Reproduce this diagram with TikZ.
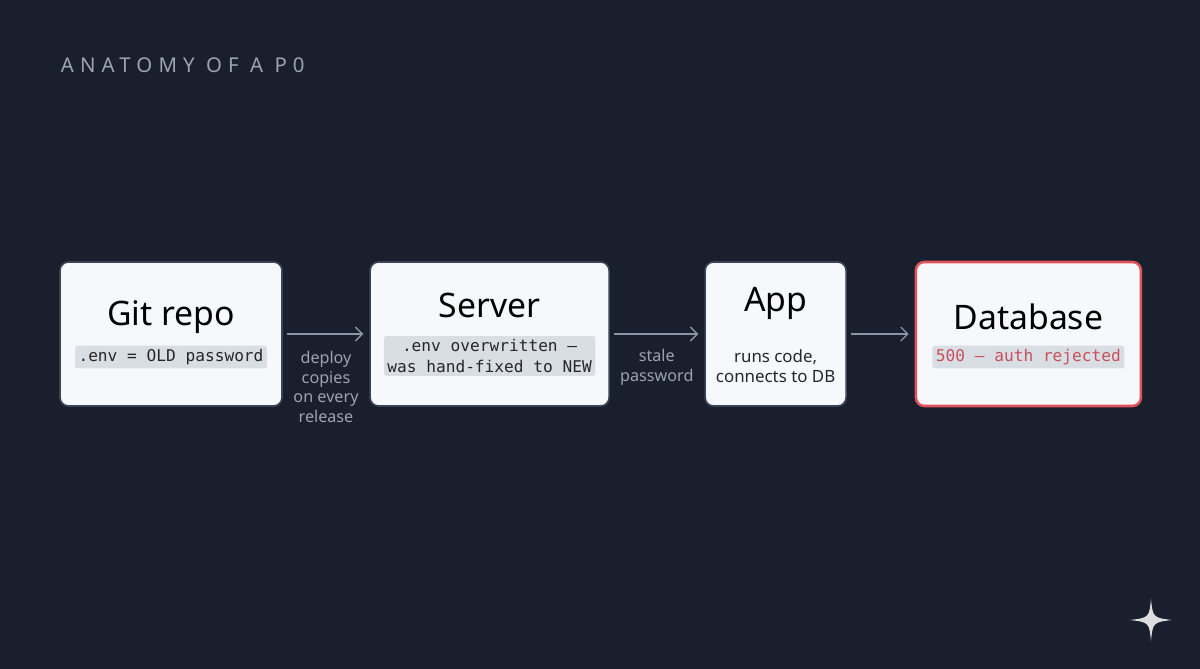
\documentclass[tikz,border=0pt]{standalone}
\usepackage{fontspec}
\setmainfont{Noto Sans}
\setsansfont{Noto Sans}
\setmonofont{DejaVu Sans Mono}
\newfontfamily\spacedfont[LetterSpace=30]{Noto Sans}
\usetikzlibrary{positioning,arrows.meta}
\definecolor{bg}{HTML}{1A1F2D}
\definecolor{card}{HTML}{F6F8FB}
\definecolor{cardline}{HTML}{3A4456}
\definecolor{chip}{HTML}{D9DEE5}
\definecolor{arrowc}{HTML}{8A94A6}
\definecolor{labelc}{HTML}{9AA3B2}
\definecolor{alert}{HTML}{E0535A}
\definecolor{alerttext}{HTML}{C8505A}
\tikzset{
  box/.style={draw=cardline, line width=1.2pt, fill=card, rounded corners=6pt, minimum height=3.6cm},
  head/.style={font=\fontsize{24}{28}\selectfont, text=black},
  code/.style={fill=chip, rounded corners=2pt, font=\ttfamily\fontsize{11.5}{14.5}\selectfont, text=black!85, inner sep=2.5pt, align=center},
  plain/.style={font=\fontsize{12}{14.5}\selectfont, text=black!85, align=center},
  note/.style={font=\fontsize{11.5}{14}\selectfont, text=labelc, align=center},
  flow/.style={draw=arrowc, line width=0.9pt, -{Straight Barb[length=5pt,width=10pt]}},
}
\begin{document}
\begin{tikzpicture}
    \fill[bg] (0,0) rectangle (30,16.725);
    \useasboundingbox (0,0) rectangle (30,16.725);

    % title
    \node[anchor=west, text=labelc, font=\spacedfont\fontsize{14.5}{16}\selectfont] (title) at (1.4,15.1) {ANATOMY OF A P0};

    % boxes
    \node[box, minimum width=5.55cm] (git) at (4.275,8.375) {};
    \node[box, minimum width=5.975cm] (server) at (12.24,8.375) {};
    \node[box, minimum width=3.525cm] (app) at (19.39,8.375) {};
    \node[box, draw=alert, line width=1.8pt, minimum width=5.625cm] (db) at (25.71,8.375) {};

    % box texts
    \node[head] (githead) at (4.275,8.8) {Git repo};
    \node[code] (gitcode) at (4.275,7.8) {.env = OLD password};
    \node[head] (serverhead) at (12.24,9.1) {Server};
    \node[code] (servercode) at (12.24,7.825) {.env overwritten —\\was hand-fixed to NEW};
    \node[head] (apphead) at (19.39,9.15) {App};
    \node[plain] (apptext) at (19.39,7.575) {runs code,\\connects to DB};
    \node[head] (dbhead) at (25.71,8.8) {Database};
    \node[code, text=alerttext] (dbcode) at (25.71,7.8) {500 — auth rejected};

    % connectors
    \draw[flow] ([xshift=0.1cm]git.east) -- ([xshift=-0.15cm]server.west);
    \draw[flow] ([xshift=0.1cm]server.east) -- ([xshift=-0.15cm]app.west);
    \draw[flow] ([xshift=0.1cm]app.east) -- ([xshift=-0.15cm]db.west);

    % connector labels
    \node[note] (deploy) at (8.15,7.05) {deploy\\copies\\on every\\release};
    \node[note] (stale) at (16.42,7.55) {stale\\password};

    % star
    \fill[white!85!bg] (28.775,1.75)
        .. controls (28.82,1.3) and (28.82,1.28) .. (29.3,1.225)
        .. controls (28.82,1.17) and (28.82,1.15) .. (28.775,0.7)
        .. controls (28.73,1.15) and (28.73,1.17) .. (28.25,1.225)
        .. controls (28.73,1.28) and (28.73,1.3) .. (28.775,1.75);
\end{tikzpicture}
\end{document}
